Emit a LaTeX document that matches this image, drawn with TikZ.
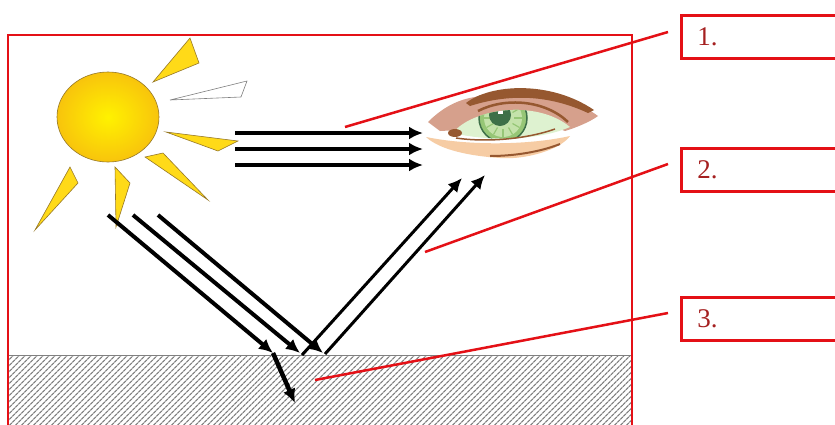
\documentclass[tikz,border=0pt]{standalone}
\usepackage{fontspec}
\setmainfont{Liberation Serif}
\usetikzlibrary{arrows.meta,patterns.meta,shapes.geometric}

\definecolor{framered}{RGB}{228,16,22}
\definecolor{tagtext}{RGB}{165,32,32}
\definecolor{hatchgray}{RGB}{128,128,128}
\definecolor{suncore}{RGB}{255,242,0}
\definecolor{sunrim}{RGB}{248,196,12}
\definecolor{sunedge}{RGB}{150,120,40}
\definecolor{rayfill}{RGB}{255,218,24}
\definecolor{skin}{RGB}{214,160,140}
\definecolor{lidtan}{RGB}{246,204,164}
\definecolor{brow}{RGB}{150,88,48}
\definecolor{eyewhite}{RGB}{222,242,208}
\definecolor{iris}{RGB}{150,198,118}
\definecolor{irislight}{RGB}{196,226,170}
\definecolor{pupil}{RGB}{62,112,72}

\begin{document}
\begin{tikzpicture}[x=1pt,y=-1pt,
  sun/.style={ellipse,minimum width=102pt,minimum height=90pt,inner sep=0pt,
    inner color=suncore,outer color=sunrim,draw=sunedge,line width=0.6pt},
  sunray/.style={fill=rayfill,draw=sunedge,line width=0.6pt},
  beam/.style={line width=4pt,-{Latex[length=14pt,width=13pt]}},
  leader/.style={draw=framered,line width=2.5pt},
  tag/.style={draw=framered,line width=2.5pt,anchor=north west,inner sep=0pt,
    minimum height=43pt,text width=190pt,inner xsep=16pt,text=tagtext,
    font=\fontsize{27}{30}\selectfont}]
\clip (0,0) rectangle (835,424);
\fill[white] (0,0) rectangle (835,424);

% ground
\fill[pattern={Lines[angle=45,distance=4pt,line width=1.3pt]},pattern color=hatchgray]
  (8,355) rectangle (632,430);
\draw[hatchgray,line width=1pt] (8,355) -- (632,355);

% frame
\draw[framered,line width=2.5pt] (8,35) rectangle (632,440);

% sun
\node[sun] (sun) at (108,117) {};
\filldraw[sunray] (153,82) -- (190,38) -- (199,63) -- cycle;
\filldraw[fill=white,draw=gray,line width=0.6pt] (170,100) -- (247,81) -- (241,97) -- cycle;
\filldraw[sunray] (166,132) -- (238,141) -- (218,151) -- cycle;
\filldraw[sunray] (145,157) -- (163,153) -- (208,200) -- cycle;
\filldraw[sunray] (115,167) -- (130,183) -- (116,227) -- cycle;
\filldraw[sunray] (70,167) -- (78,183) -- (35,230) -- cycle;

% eye
\fill[skin] (428,122) .. controls (440,110) and (455,100) .. (475,97)
  .. controls (510,85) and (560,88) .. (598,116)
  .. controls (590,122) and (575,128) .. (565,131)
  -- (555,127) .. controls (520,108) and (480,112) .. (460,130)
  -- (440,131) -- cycle;
\fill[eyewhite] (453,133) .. controls (470,110) and (535,98) .. (570,127)
  .. controls (540,140) and (490,142) .. (453,133) -- cycle;
\begin{scope}
  \clip (453,133) .. controls (470,110) and (535,98) .. (570,127)
    .. controls (540,140) and (490,142) .. (453,133) -- cycle;
  \filldraw[fill=iris,draw=pupil,line width=1.5pt] (503,118) circle (24pt);
  \fill[irislight] (503,118) circle (19pt);
  \foreach \a in {0,30,...,330}
    \draw[iris,line width=1.2pt,shift={(503,118)}] (\a:11pt) -- (\a:19pt);
  \fill[pupil] (500,115) circle (11pt);
  \fill[white] (498,108) rectangle (503,114);
\end{scope}
\fill[brow] (466,103) .. controls (490,84) and (550,80) .. (594,110)
  -- (588,113) .. controls (560,100) and (520,90) .. (470,106) -- cycle;
\draw[brow,line width=2.5pt] (478,111) .. controls (505,97) and (545,100) .. (568,122);
\fill[lidtan] (426,137) .. controls (470,146) and (530,145) .. (570,136)
  .. controls (560,150) and (525,160) .. (500,158)
  .. controls (470,156) and (440,150) .. (426,137) -- cycle;
\draw[brow,line width=1.5pt] (456,138) .. controls (490,143) and (530,138) .. (555,129);
\draw[brow,line width=2pt] (490,156) .. controls (520,156) and (545,150) .. (560,144);
\fill[brow] (455,133) ellipse (7pt and 4pt);

% sunlight towards the eye
\foreach \y [count=\i] in {133,149,165} {
  \coordinate (h\i) at (235,\y);
  \coordinate (e\i) at (423,\y);
  \draw[beam] (h\i) -- (e\i);
}

% falling, reflected and absorbed light
\coordinate (s1) at (108,215);
\coordinate (s2) at (133,215);
\coordinate (s3) at (158,215);
\coordinate (g1) at (273,353);
\coordinate (g2) at (300,353);
\coordinate (g3) at (323,353);
\coordinate (r1) at (302,355);
\coordinate (r2) at (325,354);
\coordinate (t1) at (462,178);
\coordinate (t2) at (485,175);
\coordinate (d1) at (295,403);
\draw[beam] (s1) -- (g1);
\draw[beam] (s2) -- (g2);
\draw[beam] (s3) -- (g3);
\draw[beam,line width=3pt] (r1) -- (t1);
\draw[beam,line width=3pt] (r2) -- (t2);
\draw[beam,line width=4.5pt] (g1) -- (d1);

% labels
\node[tag] (lab1) at (680,14) {1.};
\node[tag] (lab2) at (680,147) {2.};
\node[tag] (lab3) at (680,296) {3.};
\coordinate (p1) at (668,32);
\coordinate (p2) at (668,164);
\coordinate (p3) at (668,313);
\coordinate (q1) at (345,127);
\coordinate (q2) at (425,252);
\coordinate (q3) at (315,380);
\draw[leader] (p1) -- (q1);
\draw[leader] (p2) -- (q2);
\draw[leader] (p3) -- (q3);
\end{tikzpicture}
\end{document}
